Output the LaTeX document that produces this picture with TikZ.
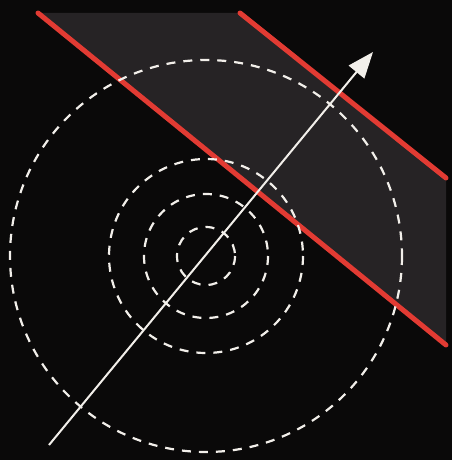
\documentclass[tikz,border=0pt]{standalone}
\usetikzlibrary{arrows.meta}
\definecolor{bg}{HTML}{0A0909}
\definecolor{band}{HTML}{262325}
\definecolor{redline}{HTML}{E23B33}
\definecolor{chalk}{HTML}{F2EFEA}
\tikzset{
  rededge/.style={draw=redline, line width=5pt, line cap=round},
  ring/.style={draw=chalk, line width=2.2pt, dash pattern=on 9pt off 8pt},
  ray/.style={draw=chalk, line width=2pt, -{Triangle[length=26pt,width=20pt]}}
}
\begin{document}
\begin{tikzpicture}[x=1pt,y=-1pt]
\fill[bg] (0,0) rectangle (452,460);
\useasboundingbox (0,0) rectangle (452,460);
\coordinate (a1) at (38,13);
\coordinate (a2) at (446,345);
\coordinate (b1) at (240,13);
\coordinate (b2) at (446,178);
\coordinate (c) at (206,256);
\coordinate (s) at (49,445);
\coordinate (t) at (373,52);
\fill[band] (a1) -- (b1) -- (b2) -- (a2) -- cycle;
\draw[rededge] (a1) -- (a2);
\draw[rededge] (b1) -- (b2);
\foreach \r in {29,62,97,196} \draw[ring] (c) circle (\r);
\draw[ray] (s) -- (t);
\end{tikzpicture}
\end{document}
